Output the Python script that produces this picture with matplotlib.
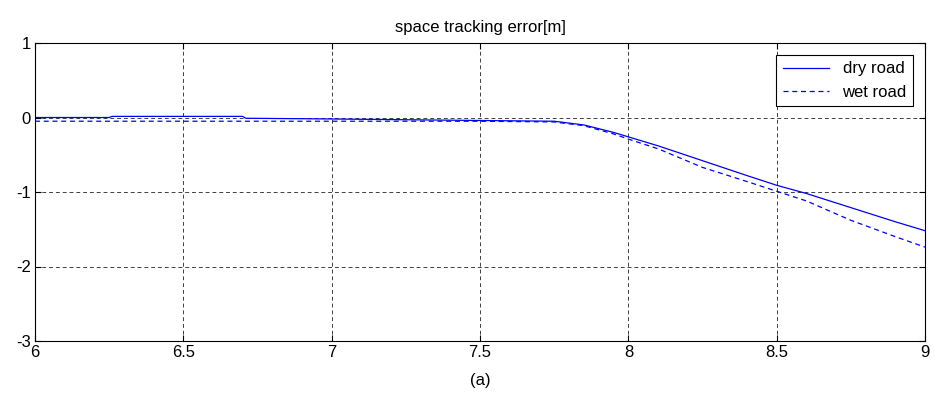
import numpy as np
import matplotlib
matplotlib.use('Agg')
import matplotlib.pyplot as plt

plt.rcParams['font.family'] = ['Liberation Sans', 'DejaVu Sans']
plt.rcParams['font.size'] = 12
plt.rcParams['axes.unicode_minus'] = False

# values
t_dry = [6.0, 6.25, 6.26, 6.7, 6.71, 7.0, 7.5, 7.75, 7.85, 7.95, 8.0, 8.1,
         8.25, 8.4, 8.5, 8.6, 8.75, 8.9, 9.0]
e_dry = [0.0, 0.0, 0.015, 0.015, -0.01, -0.02, -0.04, -0.05, -0.10, -0.20, -0.26,
         -0.38, -0.58, -0.78, -0.91, -1.02, -1.21, -1.40, -1.52]
t_wet = [6.0, 7.0, 7.5, 7.75, 7.85, 7.95, 8.0, 8.1, 8.25, 8.4, 8.5, 8.6,
         8.75, 8.9, 9.0]
e_wet = [-0.05, -0.05, -0.05, -0.06, -0.11, -0.22, -0.29, -0.42, -0.67, -0.86,
         -0.99, -1.12, -1.38, -1.60, -1.74]

xticks = [6, 6.5, 7, 7.5, 8, 8.5, 9]
xticklabels = ['6', '6.5', '7', '7.5', '8', '8.5', '9']
yticks = [1, 0, -1, -2, -3]

fig = plt.figure(figsize=(9.35, 4.0), dpi=100)
ax = fig.add_axes([0.0374, 0.1475, 0.952, 0.745])

ax.plot(t_dry, e_dry, '-', color='#0000ff', linewidth=0.9, label='dry road')
ax.plot(t_wet, e_wet, '--', color='#0000ff', linewidth=0.9, dashes=(4, 3),
        label='wet road')

ax.set_xlim(6, 9)
ax.set_ylim(-3, 1)
ax.set_xticks(xticks)
ax.set_xticklabels(xticklabels)
ax.set_yticks(yticks)
ax.tick_params(direction='in', top=True, right=True, length=4, labelsize=12, pad=3)
ax.grid(True, color='black', linestyle=(0, (4, 3)), linewidth=0.7, alpha=0.75)
for s in ax.spines.values():
    s.set_linewidth(0.8)

ax.set_title('space tracking error[m]', fontsize=12, pad=8)
ax.set_xlabel('(a)', fontsize=12, labelpad=9)
leg = ax.legend(loc='upper right', fontsize=12, fancybox=False,
                edgecolor='black', framealpha=1, borderaxespad=0.7,
                handlelength=2.8, handletextpad=0.8)
leg.get_frame().set_linewidth(0.8)

fig.savefig('out.png', dpi=100)
